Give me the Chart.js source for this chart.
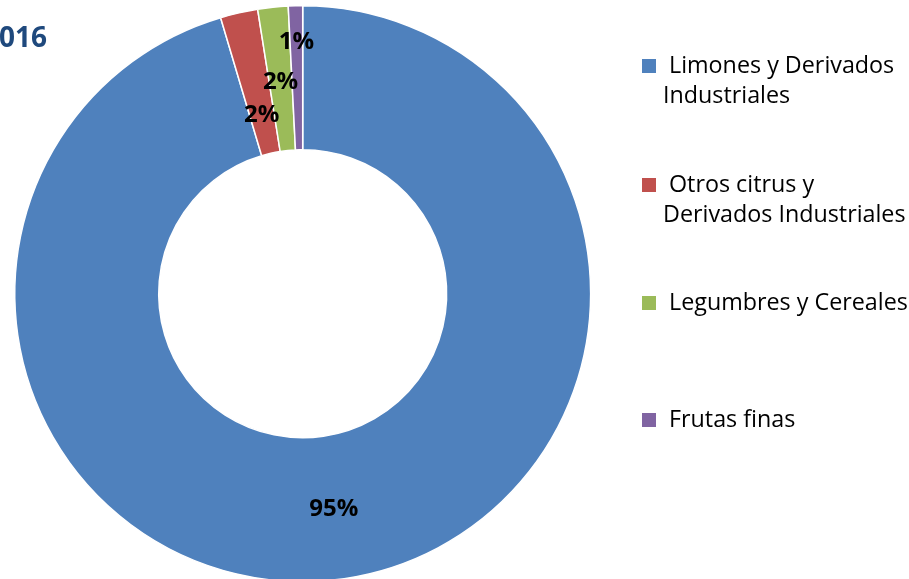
<!DOCTYPE html>
<html>
<head>
<meta charset="utf-8">
<script src="https://cdn.jsdelivr.net/npm/chart.js@4.4.0/dist/chart.umd.min.js"></script>
<style>
    html, body { margin: 0; padding: 0; background: #fff; overflow: hidden; }
    #wrap { position: relative; width: 909px; height: 600px; }
    #legend { position: absolute; left: 0; top: 0; font-family: "Open Sans", sans-serif; font-size: 23.3px; color: #000; }
    .item { position: absolute; left: 663px; line-height: 30px; text-indent: -21px; white-space: nowrap; }
    .box { display: inline-block; width: 14px; height: 14px; margin-right: 13px; text-indent: 0; }
</style>
</head>
<body>
<div id="wrap">
    <canvas id="chart"></canvas>
    <div id="legend"></div>
</div>
<script>
const title = "2016";
const categories = [
    ["Limones y Derivados", "Industriales"],
    ["Otros citrus y", "Derivados Industriales"],
    ["Legumbres y Cereales"],
    ["Frutas finas"]
];
const shares = [95.4, 2.1, 1.7, 0.8];
const colors = ["#4F81BD", "#C0504D", "#9BBB59", "#8064A2"];

// label radius shift from ring middle, like Excel nudged them
const labelShift = [0, -31, -2, 37];
const legendTops = [49, 168, 286, 403];

const labelPlugin = {
    id: "pctLabels",
    afterDatasetsDraw(chart) {
        const ctx = chart.ctx;
        const meta = chart.getDatasetMeta(0);
        const total = shares.reduce((a, b) => a + b, 0);
        ctx.save();
        ctx.font = "bold 24px 'Open Sans'";
        ctx.fillStyle = "#000";
        ctx.textAlign = "center";
        ctx.textBaseline = "alphabetic";
        meta.data.forEach((arc, i) => {
            const p = arc.getProps(["x", "y", "startAngle", "endAngle", "innerRadius", "outerRadius"], true);
            const a = (p.startAngle + p.endAngle) / 2;
            const r = (p.innerRadius + p.outerRadius) / 2 + labelShift[i];
            const x = p.x + Math.cos(a) * r;
            const y = p.y + Math.sin(a) * r;
            ctx.fillText(Math.round(shares[i] / total * 100) + "%", x, y + 8.5);
        });
        ctx.font = "bold 28px 'Open Sans'";
        ctx.fillStyle = "#1F497D";
        ctx.textAlign = "right";
        ctx.fillText(title, 47, 47);
        ctx.restore();
    }
};

new Chart(document.getElementById("chart"), {
    type: "doughnut",
    data: {
        labels: categories,
        datasets: [{
            data: shares,
            backgroundColor: colors,
            borderColor: "#fff",
            borderWidth: 1.5,
            hoverOffset: 0,
            offset: 0
        }]
    },
    options: {
        responsive: true,
        maintainAspectRatio: false,
        animation: false,
        cutout: "50%",
        layout: { padding: { left: 14, right: 317.6, top: 5, bottom: 17.6 } },
        plugins: {
            legend: { display: false },
            tooltip: { enabled: false }
        }
    },
    plugins: [labelPlugin]
});

const legendEl = document.getElementById("legend");
categories.forEach((lines, i) => {
    const div = document.createElement("div");
    div.className = "item";
    div.style.top = legendTops[i] + "px";
    const box = document.createElement("span");
    box.className = "box";
    box.style.background = colors[i];
    div.appendChild(box);
    lines.forEach((line, j) => {
        if (j > 0) div.appendChild(document.createElement("br"));
        div.appendChild(document.createTextNode(line));
    });
    legendEl.appendChild(div);
});
</script>
</body>
</html>
